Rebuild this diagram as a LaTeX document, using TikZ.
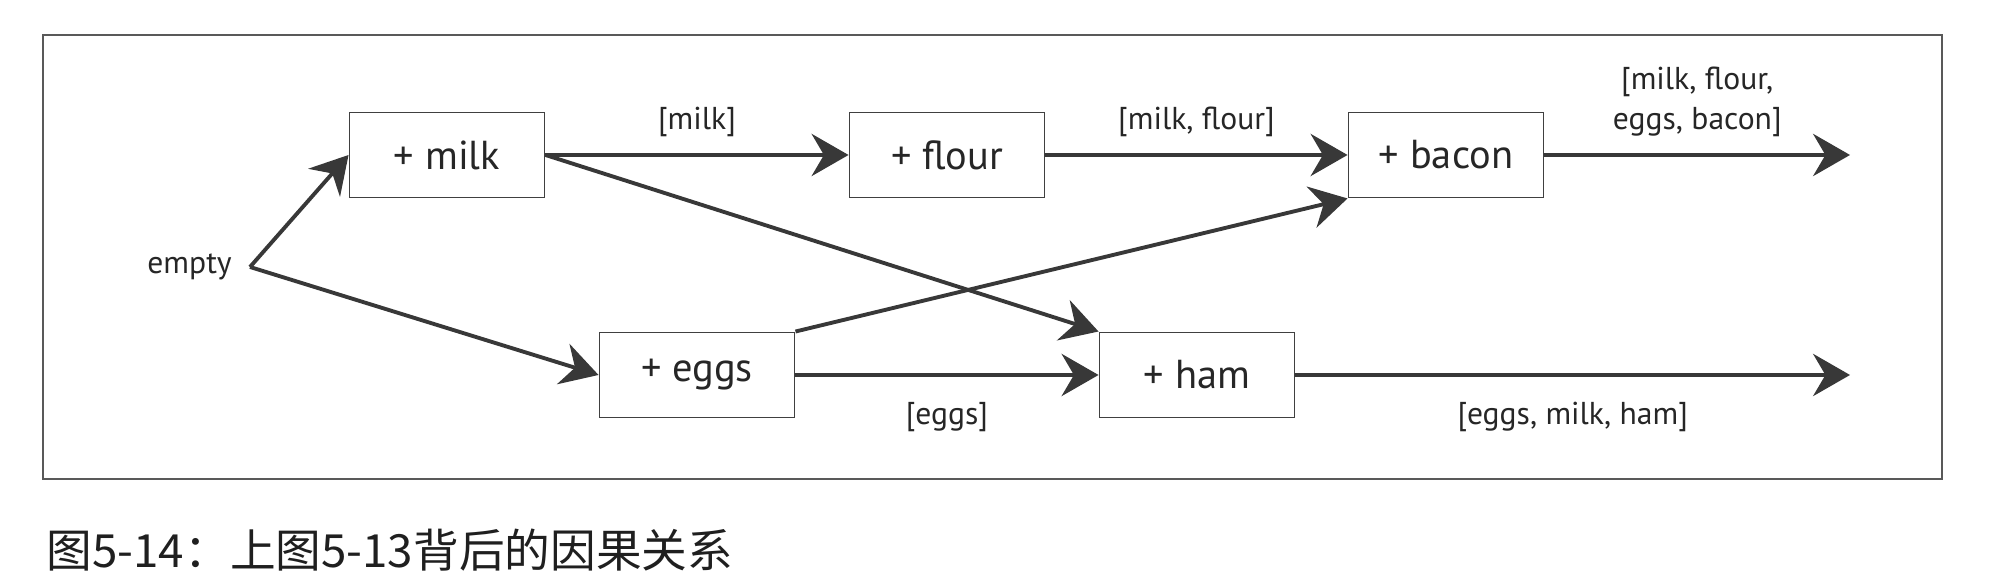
\documentclass[tikz,border=0pt]{standalone}
\usepackage{fontspec}
\setmainfont{PT Sans}
\newfontfamily\cjk{Noto Sans CJK SC}
\usetikzlibrary{arrows.meta}

\begin{document}
\begin{tikzpicture}[
    box/.style={draw=black!75, line width=0.55pt, minimum width=1.95cm, minimum height=0.85cm, inner sep=0pt, text=black!85, font=\fontsize{11.5}{13}\selectfont},
    flow/.style={draw=black!78, line width=1.1pt, -{Stealth[length=10.5pt,width=12pt,inset=3.5pt]}},
    lbl/.style={font=\fontsize{9}{11.4}\selectfont, text=black!85, align=center}
  ]
            \useasboundingbox (0,0) rectangle (19.98,5.84);
            \draw[black!65, line width=0.4pt] (0.43,1.05) rectangle (19.42,5.49);
            \node[box] (milk) at (4.47,4.29) {+ milk};
            \node[box] (flour) at (9.47,4.29) {+ flour};
            \node[box] (bacon) at (14.46,4.29) {+ bacon};
            \node[box] (eggs) at (6.97,2.09) {+ eggs};
            \node[box] (ham) at (11.97,2.09) {+ ham};
            \node[lbl, anchor=east, inner xsep=5pt] (empty) at (2.50,3.17) {empty};
            \coordinate (endA) at (18.50,4.29);
            \coordinate (endB) at (18.50,2.09);
            \draw[flow] (empty.east) -- (milk.west);
            \draw[flow] (empty.east) -- (eggs.west);
            \draw[flow] (milk) -- node[lbl, yshift=0.33cm] {[milk]} (flour);
            \draw[flow] (flour) -- node[lbl, yshift=0.33cm] {[milk, flour]} (bacon);
            \draw[flow] (bacon) -- node[lbl, yshift=0.53cm] {[milk, flour,\\eggs, bacon]} (endA);
            \draw[flow] (eggs) -- node[lbl, yshift=-0.42cm] {[eggs]} (ham);
            \draw[flow] (ham) -- node[lbl, yshift=-0.42cm] {[eggs, milk, ham]} (endB);
            \draw[flow] (milk.east) -- (ham.north west);
            \draw[flow] (eggs.north east) -- (bacon.south west);
            \node[anchor=west, inner sep=0pt, text=black!88, font=\cjk\fontsize{13}{15}\selectfont] (caption) at (0.46,0.34) {图5-14：上图5-13背后的因果关系};
\end{tikzpicture}
\end{document}
